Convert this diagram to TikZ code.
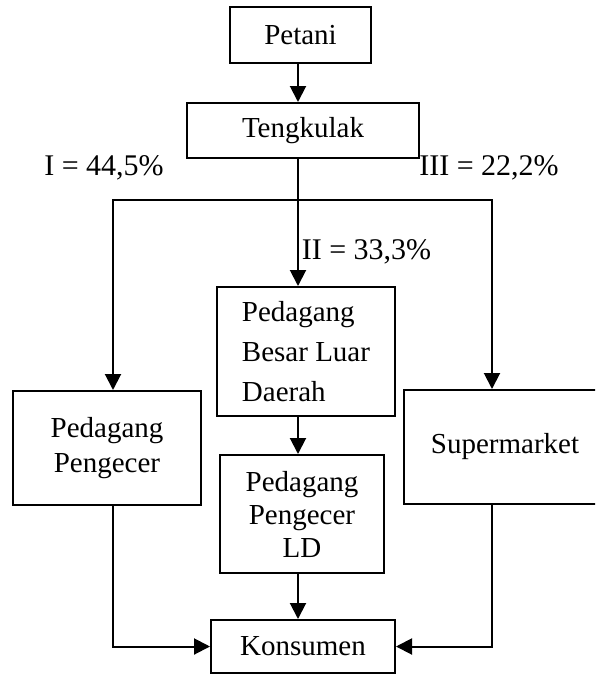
\documentclass[tikz,border=0pt]{standalone}
\usepackage{fontspec}
\setmainfont{Liberation Serif}
\usetikzlibrary{arrows.meta}

\begin{document}
\begin{tikzpicture}[x=0.5pt,y=-0.5pt,line width=1pt,
  box/.style={draw, inner sep=0pt, font=\fontsize{14.5}{17.5}\selectfont},
  arr/.style={-{Triangle[length=8pt,width=8pt]}},
  lbl/.style={inner sep=0pt, font=\fontsize{15}{17}\selectfont}]
  \useasboundingbox (0,0) rectangle (595,675);
  \clip (0,0) rectangle (595,675);
  % Top of the chain
  \node[box, minimum width=70.5pt, minimum height=28pt] (petani) at (300.5,35) {Petani};
  \node[box, minimum width=116pt, minimum height=27.5pt] (tengkulak) at (303,130.5) {Tengkulak};
  % Middle row
  \node[box, minimum width=89pt, minimum height=64.5pt, align=left,
        font=\fontsize{14.5}{20}\selectfont] (pbld) at (306,351.5) {Pedagang\\Besar Luar\\Daerah};
  \node[box, minimum width=94pt, minimum height=57pt, align=center] (pp) at (107,448) {Pedagang\\Pengecer};
  \node[box, minimum width=101pt, minimum height=57pt] (super) at (505,447) {Supermarket};
  \node[box, minimum width=82pt, minimum height=59pt, align=center,
        font=\fontsize{14.5}{16.5}\selectfont] (ppld) at (302,514) {Pedagang\\Pengecer\\LD};
  % End of the chain
  \node[box, minimum width=92pt, minimum height=26.5pt] (konsumen) at (303,646.5) {Konsumen};
  % Channel shares
  \node[lbl] (lblI) at (104,168) {I = 44,5\%};
  \node[lbl] (lblIII) at (489,168) {III = 22,2\%};
  \node[lbl] (lblII) at (366.5,252) {II = 33,3\%};
  % Split points
  \coordinate (split) at (298,200);
  \coordinate (lsplit) at (113,200);
  \coordinate (rsplit) at (492,200);
  % Connectors
  \draw[arr] (petani.south -| split) -- (tengkulak.north -| split);
  \draw (tengkulak.south -| split) -- (split);
  \draw[arr] (split) -| (lsplit |- pp.north);
  \draw[arr] (split) -| (rsplit |- super.north);
  \draw[arr] (split) -- (pbld.north -| split);
  \draw[arr] (pbld.south -| split) -- (ppld.north -| split);
  \draw[arr] (ppld.south -| split) -- (konsumen.north -| split);
  \draw[arr] (pp.south -| lsplit) |- (konsumen.west);
  \draw[arr] (super.south -| rsplit) |- (konsumen.east);
\end{tikzpicture}
\end{document}
